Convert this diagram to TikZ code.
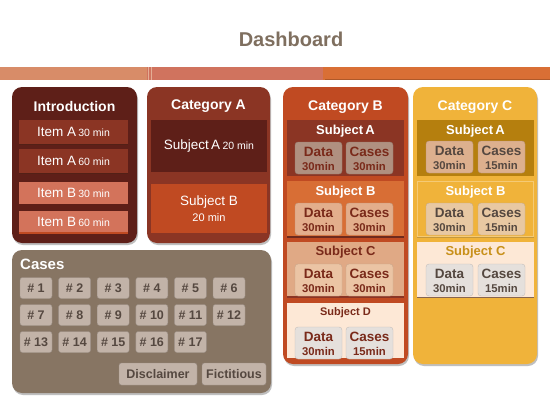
\documentclass[tikz,border=0pt]{standalone}
\usepackage{fontspec}
\setmainfont{Liberation Sans}
\usetikzlibrary{positioning}
\definecolor{introbg}{HTML}{5E1F18}
\definecolor{itemA}{HTML}{8B3524}
\definecolor{itemB}{HTML}{D3735B}
\definecolor{catB}{HTML}{C04A22}
\definecolor{secB}{HTML}{D86E35}
\definecolor{secC}{HTML}{E0A985}
\definecolor{secD}{HTML}{FDE8D6}
\definecolor{catC}{HTML}{F0B33A}
\definecolor{secCA}{HTML}{B57F0E}
\definecolor{gold}{HTML}{C8901A}
\definecolor{casesbg}{HTML}{877563}
\definecolor{btn}{HTML}{C2B3A8}
\definecolor{btntxt}{HTML}{554840}
\definecolor{darkred}{HTML}{7A2A1A}
\definecolor{titlecol}{HTML}{7F6F5F}
\definecolor{barA}{HTML}{D88C68}
\definecolor{barB}{HTML}{D0735E}
\definecolor{barC}{HTML}{D96F35}
\tikzset{
  panel/.style={rounded corners=10pt, fill=#1},
  rect/.style={fill=#1},
  pbox/.style={rounded corners=3pt, fill=#1, draw=#1!85!black, line width=0.4pt},
  ptitle/.style={text=white, font=\bfseries\fontsize{14}{16}\selectfont},
  stitle/.style={font=\bfseries\fontsize{13}{15}\selectfont},
  bigtxt/.style={font=\bfseries\fontsize{13.5}{15}\selectfont},
  smalltxt/.style={font=\bfseries\fontsize{11.3}{13}\selectfont},
  itemtxt/.style={text=white, font=\fontsize{13.5}{16}\selectfont},
  numbtn/.style={rounded corners=2.5pt, fill=btn, draw=btn!80!black, line width=0.4pt, text=btntxt, font=\bfseries\fontsize{12.5}{14}\selectfont, minimum width=32pt, minimum height=21pt, inner sep=0pt},
}
\newcommand{\itm}[2]{#1\,{\fontsize{10.5}{12}\selectfont #2}}
\begin{document}
\begin{tikzpicture}[x=1pt,y=-1pt]
\useasboundingbox (0,0) rectangle (550,413);
\fill[white] (0,0) rectangle (550,413);
% title
\node[text=titlecol, font=\bfseries\fontsize{20}{24}\selectfont] (title) at (291,39) {Dashboard};
% bar
\fill[barA] (0,67) rectangle (147,80);
\fill[barB] (147,67) rectangle (323,80);
\fill[barC] (323,67) rectangle (550,80);
\draw[barA!70!white, line width=0.6pt] (148.5,67) -- (148.5,80) (151.5,67) -- (151.5,80);
\draw[barC!80!black, line width=0.5pt] (325,79.5) -- (550,79.5);

% shadows
\foreach \a/\b/\c/\d in {12/87/137/243, 147/87/270/243, 283/87/408/364, 413/87/537/364, 12/250/271/393}
  \fill[black!25, rounded corners=10pt] (\a+1,\b+2) rectangle (\c+1,\d+2);

% Introduction panel
\fill[panel=introbg] (12,87) rectangle (137,243);
\node[ptitle] (introT) at (74.5,106) {Introduction};
\fill[black!40!itemA] (19,121) rectangle (128,145);
\fill[itemA] (19,120) rectangle (128,144);
\node[itemtxt] (ia1) at (73.5,132) {\itm{Item A}{30 min}};
\fill[black!40!itemA] (19,150) rectangle (128,174);
\fill[itemA] (19,149) rectangle (128,173);
\node[itemtxt] (ia2) at (73.5,161) {\itm{Item A}{60 min}};
\fill[itemB] (19,182) rectangle (128,204);
\node[itemtxt] (ib1) at (73.5,193) {\itm{Item B}{30 min}};
\fill[catB] (19,231) rectangle (128,234);
\fill[itemB] (19,211) rectangle (128,232);
\node[itemtxt] (ib2) at (73.5,222) {\itm{Item B}{60 min}};

% Category A panel
\fill[panel=itemA] (147,87) rectangle (270,243);
\node[ptitle] (catAT) at (208.5,106) {Category A};
\fill[introbg] (151,120) rectangle (267,172);
\node[itemtxt] (sa) at (209,146) {\itm{Subject\,A}{20 min}};
\fill[catB] (151,184) rectangle (267,233);
\node[itemtxt] (sb) at (209,202) {Subject B};
\node[text=white, font=\fontsize{11}{13}\selectfont] (sbm) at (209,218) {20 min};

% Category B panel
\fill[panel=catB] (283,87) rectangle (408,364);
\node[ptitle] (catBT) at (345.5,107) {Category B};
% sections
\fill[itemA] (287,120) rectangle (404,176);
\node[stitle, text=white] (bsa) at (345.5,131) {Subject\,A};
\fill[secB] (287,181) rectangle (404,237);
\fill[itemA!80!black] (287,236) rectangle (404,238);
\node[stitle, text=white] (bsb) at (345.5,192) {Subject B};
\fill[secC] (287,242) rectangle (404,297);
\fill[itemA] (287,296) rectangle (404,298);
\node[stitle, text=darkred] (bsc) at (345.5,252) {Subject C};
\fill[secD] (287,303) rectangle (404,358);
\node[text=darkred, font=\bfseries\fontsize{11}{13}\selectfont] (bsd) at (345.5,313) {Subject D};
% boxes in B
\foreach \y/\col/\mA/\mB/\nm in {142/B09080/30min/30min/a, 203/E3AE8C/30min/30min/b, 264/EBC4A4/30min/30min/c, 327/E5E0DC/30min/15min/d}{
  \definecolor{bx}{HTML}{\col}
  \fill[pbox=bx] (295,\y) rectangle (342,\y+32);
  \fill[pbox=bx] (346,\y) rectangle (393,\y+32);
  \node[bigtxt, text=darkred] (bd\nm) at (318.5,\y+10) {Data};
  \node[smalltxt, text=darkred] (bdm\nm) at (318.5,\y+24) {\mA};
  \node[bigtxt, text=darkred] (bc\nm) at (369.5,\y+10) {Cases};
  \node[smalltxt, text=darkred] (bcm\nm) at (369.5,\y+24) {\mB};
}

% Category C panel
\fill[panel=catC] (413,87) rectangle (537,364);
\node[ptitle] (catCT) at (475,107) {Category C};
\fill[secCA] (417,120) rectangle (534,176);
\node[stitle, text=white] (csa) at (475.5,131) {Subject\,A};
\draw[catC!70!white, line width=0.6pt] (417.5,181.5) rectangle (533.5,236.5);
\draw[secCA!80!white, line width=0.5pt] (417,237.2) -- (534,237.2);
\node[stitle, text=white] (csb) at (475.5,192) {Subject B};
\fill[secD] (417,242) rectangle (534,297);
\fill[secC!60!black] (417,296.5) rectangle (534,298);
\node[stitle, text=gold] (csc) at (475.5,252) {Subject C};
\foreach \y/\col/\nm in {141/DDB08E/a, 203/E8C8A2/b, 264/E5E0DC/c}{
  \definecolor{bx}{HTML}{\col}
  \fill[pbox=bx] (426,\y) rectangle (473,\y+32);
  \fill[pbox=bx] (478,\y) rectangle (525,\y+32);
  \node[bigtxt, text=btntxt] (cd\nm) at (449.5,\y+10) {Data};
  \node[smalltxt, text=btntxt] (cdm\nm) at (449.5,\y+24) {30min};
  \node[bigtxt, text=btntxt] (cc\nm) at (501.5,\y+10) {Cases};
  \node[smalltxt, text=btntxt] (ccm\nm) at (501.5,\y+24) {15min};
}

% Cases panel
\fill[panel=casesbg] (12,250) rectangle (271,393);
\node[anchor=west, text=white, font=\bfseries\fontsize{15}{17}\selectfont, inner sep=0pt] (casesT) at (20,264) {Cases};
\foreach \n [count=\i from 0] in {1,...,17}{
  \pgfmathtruncatemacro{\col}{mod(\i,6)}
  \pgfmathtruncatemacro{\row}{div(\i,6)}
  \pgfmathsetmacro{\xx}{36+\col*38.6}
  \pgfmathsetmacro{\yy}{288+\row*27}
  \node[numbtn] (c\n) at (\xx,\yy) {\# \n};
}
\node[numbtn, minimum width=78pt, minimum height=22pt] (disc) at (158,374) {Disclaimer};
\node[numbtn, minimum width=64pt, minimum height=22pt] (fict) at (234,374) {Fictitious};
\end{tikzpicture}
\end{document}
